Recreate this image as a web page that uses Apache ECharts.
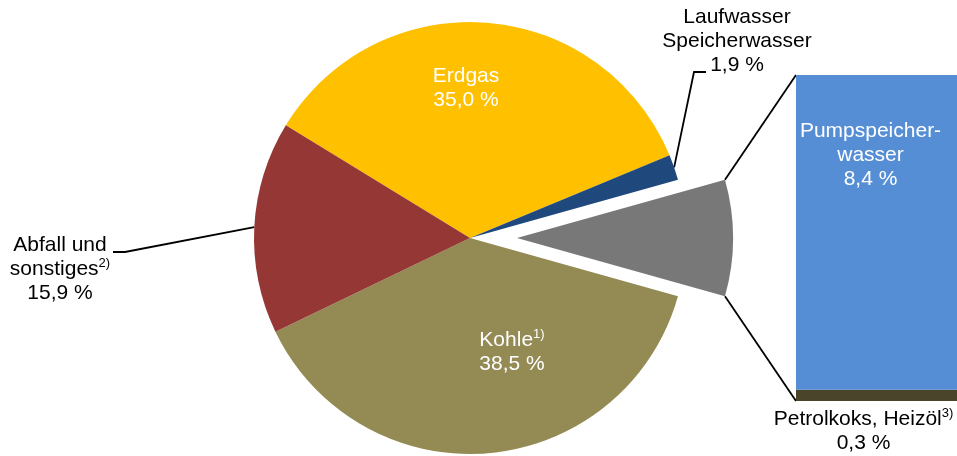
<!DOCTYPE html>
<html>
<head>
<meta charset="utf-8">
<script src="https://cdn.jsdelivr.net/npm/echarts@6/dist/echarts.min.js"></script>
<style>html,body{margin:0;padding:0;background:#fff;}#c{width:957px;height:456px;}</style>
</head>
<body>
<div id="c"></div>
<script>
// ---- data ----
const pieNames = ['Erdgas', 'Laufwasser\nSpeicherwasser', 'Pumpspeicherwasser, Petrolkoks, Heizöl', 'Kohle', 'Abfall und\nsonstiges'];
const pieSup = ['', '', '', '1)', '2)'];
const pieValues = [35.0, 1.9, 8.7, 38.5, 15.9];
const pieColors = ['#FFC000', '#1F497D', '#787878', '#948A54', '#953735'];
const barNames = ['Petrolkoks, Heizöl', 'Pumpspeicher-\nwasser'];
const barSup = ['3)', ''];
const barValues = [0.3, 8.4];
const barColors = ['#4A452A', '#558ED5'];

// ---- layout ----
const CX = 470, CY = 238, R = 216, START = 148.5, OFFSET = 47;
const GL = 796, GT = 75, GW = 161, GH = 326;
const FONT = "'Liberation Sans', Arial, sans-serif";
const LINE_W = 1.8;
const labelPos = [
  {x: 466, y: 88},
  {x: 737, y: 41, line: [[694, 72], [706, 72]]},
  null,
  {x: 512, y: 352},
  {x: 60, y: 269, line: [[125, 252], [113, 252]]}
];

const fmt = v => v.toFixed(1).replace('.', ',') + ' %';
const total = pieValues.reduce((a, b) => a + b, 0);
const angles = [];
let cum = 0;
pieValues.forEach(v => {
  const s = START - cum / total * 360;
  const e = s - v / total * 360;
  angles.push({s, e, m: (s + e) / 2});
  cum += v;
});
const rad = d => d * Math.PI / 180;
const pt = (a, r) => [CX + r * Math.cos(rad(a)), CY - r * Math.sin(rad(a))];

function labelText(name, sup, value) {
  const lines = name.split('\n');
  const last = lines.length - 1;
  return lines.map((l, i) => i === last && sup ? l + '{sup|' + sup + '}' : l).join('\n') + '\n' + fmt(value);
}

const pieData = pieValues.map((v, i) => {
  const inner = !labelPos[i] || !labelPos[i].line;
  return {
    name: pieNames[i],
    value: v,
    selected: i === 2,
    itemStyle: {color: pieColors[i]},
    label: {
      show: !!labelPos[i],
      position: inner ? 'inside' : 'outside',
      color: inner ? '#fff' : '#000',
      formatter: labelText(pieNames[i], pieSup[i], v)
    },
    labelLine: {show: !inner, lineStyle: {color: '#000', width: LINE_W}}
  };
});

const chart = echarts.init(document.getElementById('c'), null, {renderer: 'canvas'});

const richSup = {sup: {fontSize: 13, verticalAlign: 'top', fontFamily: FONT}};

const g = angles[2];
const offV = [OFFSET * Math.cos(rad(g.m)), -OFFSET * Math.sin(rad(g.m))];
const gTop = pt(g.s, R); gTop[0] += offV[0]; gTop[1] += offV[1];
const gBot = pt(g.e, R); gBot[0] += offV[0]; gBot[1] += offV[1];

chart.setOption({
  animation: false,
  backgroundColor: '#fff',
  grid: {left: GL, top: GT, width: GW, height: GH},
  xAxis: {type: 'category', data: [''], show: false},
  yAxis: {type: 'value', min: 0, max: barValues.reduce((a, b) => a + b, 0), show: false},
  series: [
    {
      type: 'pie',
      center: [CX, CY],
      radius: R,
      startAngle: START,
      clockwise: true,
      selectedMode: 'single',
      selectedOffset: OFFSET,
      silent: true,
      emphasis: {disabled: true},
      label: {fontSize: 21, lineHeight: 24, fontFamily: FONT, rich: richSup, align: 'center'},
      labelLayout: function (p) {
        const lp = labelPos[p.dataIndex];
        if (!lp) return {};
        const o = {x: lp.x, y: lp.y, align: 'center', verticalAlign: 'middle'};
        if (lp.line) o.labelLinePoints = [pt(angles[p.dataIndex].m, R), lp.line[0], lp.line[1]];
        return o;
      },
      data: pieData
    },
    {
      type: 'bar', stack: 'b', barWidth: '100%', silent: true,
      itemStyle: {color: barColors[0]},
      label: {
        show: true, position: 'bottom', distance: 6, offset: [-13, 0],
        fontSize: 21, lineHeight: 24, fontFamily: FONT, color: '#000', align: 'center',
        rich: richSup,
        formatter: labelText(barNames[0], barSup[0], barValues[0])
      },
      data: [barValues[0]]
    },
    {
      type: 'bar', stack: 'b', barWidth: '100%', silent: true,
      itemStyle: {color: barColors[1]},
      label: {
        show: true, position: [GW / 2 - 6, 44], align: 'center', verticalAlign: 'top',
        fontSize: 21, lineHeight: 24, fontFamily: FONT, color: '#fff',
        rich: richSup,
        formatter: labelText(barNames[1], barSup[1], barValues[1])
      },
      data: [barValues[1]]
    }
  ],
  graphic: [
    {type: 'line', shape: {x1: gTop[0], y1: gTop[1], x2: GL, y2: GT}, style: {stroke: '#000', lineWidth: LINE_W}, silent: true},
    {type: 'line', shape: {x1: gBot[0], y1: gBot[1], x2: GL, y2: GT + GH}, style: {stroke: '#000', lineWidth: LINE_W}, silent: true}
  ]
});
</script>
</body>
</html>
